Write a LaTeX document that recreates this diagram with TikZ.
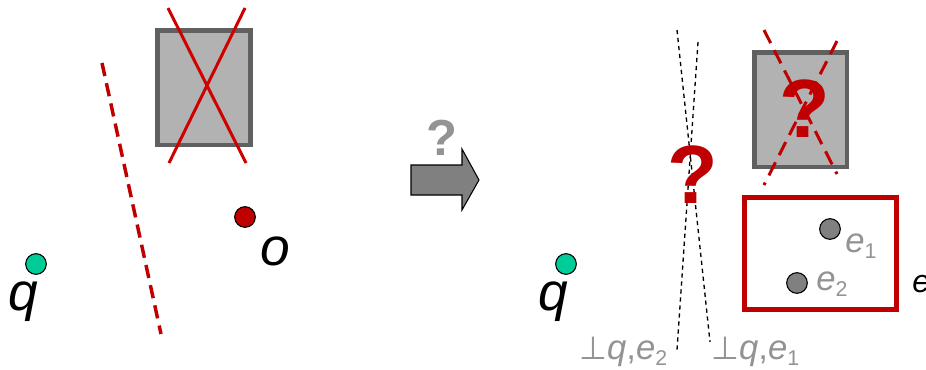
\documentclass[tikz,border=0pt]{standalone}
\usepackage{fontspec}
\setmainfont{Liberation Sans}
\newfontfamily\djv{DejaVu Sans}
\definecolor{dred}{HTML}{C00000}
\definecolor{xred}{HTML}{D00000}
\definecolor{boxfill}{HTML}{B2B2B2}
\definecolor{boxline}{HTML}{606060}
\definecolor{teal}{HTML}{00CC99}
\definecolor{dotgray}{HTML}{808080}
\definecolor{txtgray}{HTML}{939393}
\newcommand{\lsub}[1]{\raisebox{-5pt}{\fontsize{16}{16}\selectfont #1}}
\begin{document}
\begin{tikzpicture}[x=0.75pt,y=-0.75pt,
  obstacle/.style={draw=boxline,fill=boxfill,line width=3.4pt},
  crossline/.style={draw=xred,line width=2.25pt},
  dcross/.style={draw=dred,line width=2.25pt,dash pattern=on 11pt off 6pt},
  reddash/.style={draw=dred,line width=2.6pt,dash pattern=on 10pt off 5.5pt},
  bisect/.style={draw=black,line width=1pt,dash pattern=on 3.2pt off 2.8pt},
  pt/.style={circle,draw=black,line width=0.8pt,minimum size=15.5pt,inner sep=0pt},
  biglabel/.style={font=\fontsize{40}{40}\selectfont\itshape,inner sep=0pt},
  glabel/.style={font=\fontsize{26}{26}\selectfont,text=txtgray,inner sep=0pt},
  qmark/.style={font=\fontsize{62}{62}\selectfont\bfseries,text=dred,inner sep=0pt}]
\useasboundingbox (0,0) rectangle (926,369);

% ---------- left part ----------
\node[obstacle,minimum width=70pt,minimum height=86pt,inner sep=0pt,anchor=north west] (obsL) at (155,28) {};
\coordinate (xa1) at (168,8);  \coordinate (xa2) at (246,163);
\coordinate (xb1) at (245,8);  \coordinate (xb2) at (169,163);
\draw[crossline] (xa1) -- (xa2);
\draw[crossline] (xb1) -- (xb2);
\coordinate (rd1) at (102,63); \coordinate (rd2) at (161,334);
\draw[reddash] (rd1) -- (rd2);
\node[pt,fill=dred] (o) at (245,217) {};
\node[biglabel,anchor=base] (olab) at (275,265) {o};
\node[pt,fill=teal] (qL) at (36,264) {};
\node[biglabel,anchor=base] (qLlab) at (23,310) {q};

% ---------- arrow ----------
\draw[fill=dotgray,draw=black,line width=0.8pt]
  (411,165) -- (462,165) -- (462,149) -- (479,180) -- (462,210) -- (462,195) -- (411,195) -- cycle;
\node[font=\fontsize{38}{38}\selectfont\bfseries,text=txtgray,inner sep=0pt,anchor=base] (arrq) at (442,155) {?};

% ---------- right part ----------
\coordinate (ba1) at (677,30); \coordinate (ba2) at (710,342);
\coordinate (bb1) at (698,42); \coordinate (bb2) at (677,350);
\draw[bisect] (ba1) -- (ba2);
\draw[bisect] (bb1) -- (bb2);
\node[qmark,anchor=base] (q1) at (693,203) {?};

\node[obstacle,minimum width=69.5pt,minimum height=86pt,inner sep=0pt,anchor=north west] (obsR) at (752,50) {};
\coordinate (ya1) at (764,30);  \coordinate (ya2) at (837,174);
\coordinate (yb1) at (837,41);  \coordinate (yb2) at (764,185);
\draw[dcross] (ya1) -- (ya2);
\draw[dcross] (yb1) -- (yb2);
\node[qmark,anchor=base] (q2) at (805,137) {?};

\node[draw=dred,line width=3.75pt,minimum width=114pt,minimum height=84pt,inner sep=0pt,anchor=north west] (ebox) at (742,195) {};
\node[pt,fill=dotgray] (e1) at (830,229) {};
\node[glabel,anchor=base west] (e1lab) at (845,252) {\textit{e}\lsub{1}};
\node[pt,fill=dotgray] (e2) at (797,283) {};
\node[glabel,anchor=base west] (e2lab) at (816,290) {\textit{e}\lsub{2}};
\node[font=\fontsize{24}{24}\selectfont\itshape,inner sep=0pt,anchor=base west] (elab) at (912,292) {e};

\node[pt,fill=teal] (qR) at (566,264) {};
\node[biglabel,anchor=base] (qRlab) at (553,310) {q};

\node[glabel,anchor=base west] (p2) at (579,359) {{\djv\fontsize{24}{24}\selectfont ⊥}\textit{q},\textit{e}\lsub{2}};
\node[glabel,anchor=base west] (p1) at (711,359) {{\djv\fontsize{24}{24}\selectfont ⊥}\textit{q},\textit{e}\lsub{1}};
\end{tikzpicture}
\end{document}
